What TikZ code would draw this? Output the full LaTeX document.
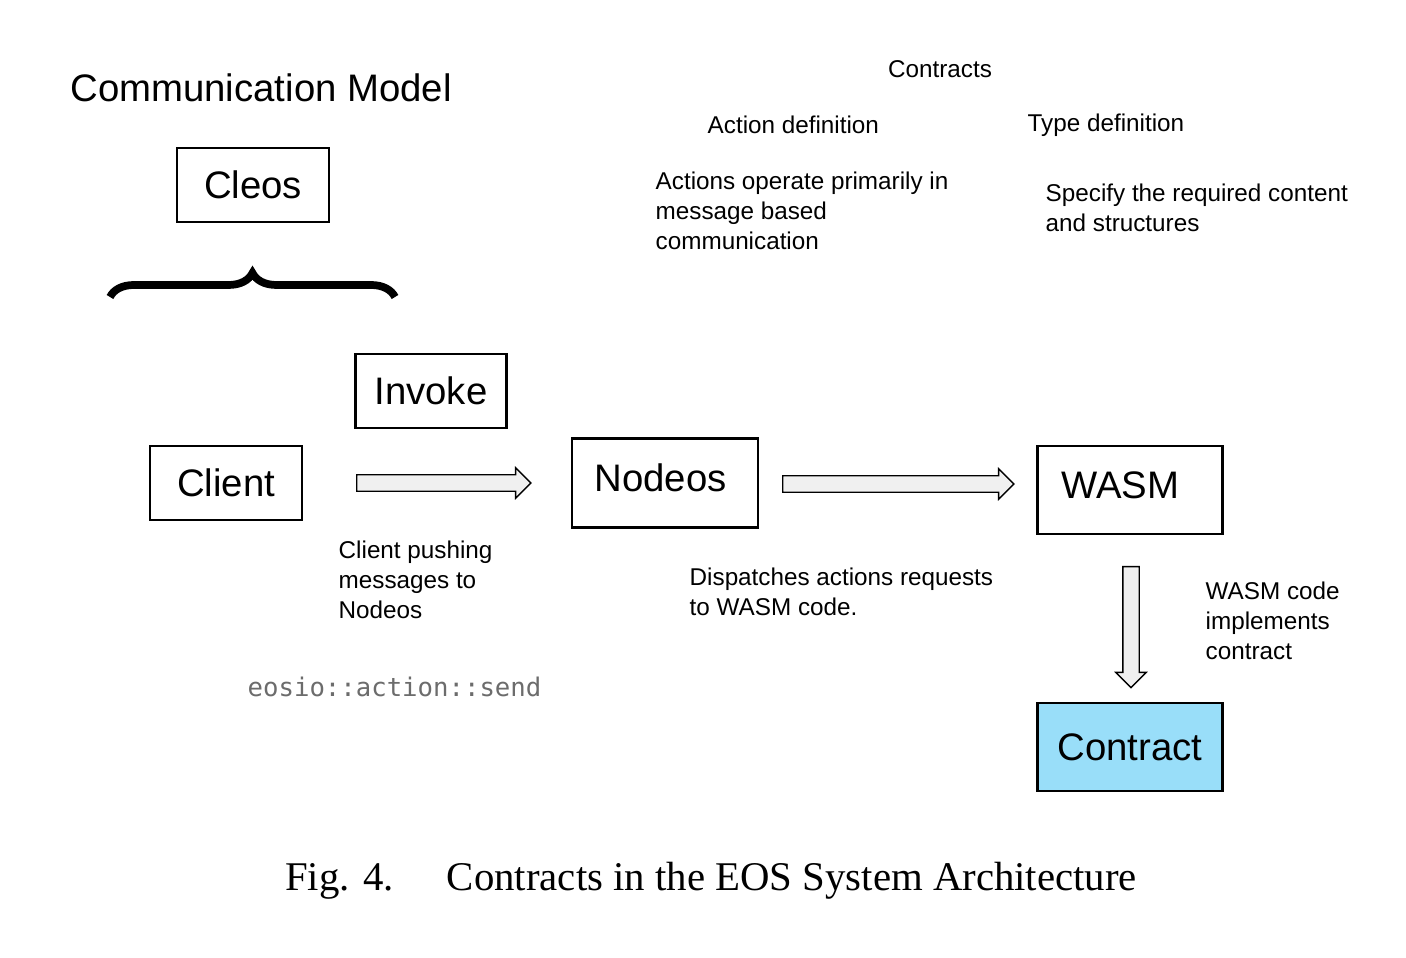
\documentclass[tikz,border=0pt]{standalone}
\usepackage{fontspec}
\setmainfont{Liberation Sans}
\newfontfamily\capfont{Liberation Serif}
\newfontfamily\codefont{DejaVu Sans Mono}
\usetikzlibrary{decorations.pathreplacing}
\usetikzlibrary{shapes.arrows}
\usetikzlibrary{positioning}

\begin{document}
\begin{tikzpicture}[x=0.01cm,y=-0.01cm,
	box/.style={draw,line width=0.8pt,inner sep=0pt,font=\fontsize{10.9}{13}\selectfont},
	txt/.style={align=left,anchor=north west,inner sep=0pt,font=\fontsize{6.9}{8.6}\selectfont},
	fat/.style={single arrow,draw,fill=gray!12,line width=0.4pt,inner sep=0.075cm,single arrow head extend=0.07cm}]
	
	\useasboundingbox (0,0) rectangle (1406,958);
	
	\node [anchor=west,font=\fontsize{10.9}{13}\selectfont] (title) at (58,88) {Communication Model};
	
	\node [box,minimum width=1.52cm,minimum height=0.74cm] (cleos) at (253,185) {Cleos};
	
	\draw [line width=2.2pt,decorate,decoration={brace,amplitude=0.24cm}]
	(110,297) -- (395,297);
	
	\node [box,minimum width=1.51cm,minimum height=0.74cm] (invoke) at (431,391) {Invoke};
	
	\node [box,minimum width=1.52cm,minimum height=0.74cm] (client) at (226,483) {Client};
	
	% main flow
	\node [box,minimum width=1.86cm,minimum height=0.89cm] (nodeos) at (665,483) {};
	\node [font=\fontsize{10.9}{13}\selectfont,anchor=west] (nodeoslbl) at (582,478) {Nodeos};
	
	\node [box,minimum width=1.85cm,minimum height=0.88cm] (wasm) at (1130,490) {};
	\node [font=\fontsize{10.9}{13}\selectfont,anchor=west] (wasmlbl) at (1049,485) {WASM};
	
	\node [box,fill=cyan!40,minimum width=1.85cm,minimum height=0.88cm] (contract) at (1130,747) {Contract};
	
	\node [fat,minimum height=1.74cm,anchor=west] (push) at (356,483) {};
	\node [fat,minimum height=2.31cm,anchor=west] (dispatch) at (782,484) {};
	\node [fat,shape border rotate=270,minimum height=1.21cm] (impl) at (1131,623) {};
	
	% labels
	\node [txt] (pushlbl) at (338,540) {Client pushing\\messages to\\Nodeos};
	\node [anchor=west,inner sep=0pt,text=gray!85!black,font=\codefont\fontsize{7.3}{9}\selectfont] (send) at (247,687) {eosio::action::send};
	\node [txt] (displbl) at (689,567) {Dispatches actions requests\\to WASM code.};
	\node [txt] (impllbl) at (1205,581) {WASM code\\implements\\contract};
	
	\node [font=\fontsize{6.9}{8.6}\selectfont] (contracts) at (940,69) {Contracts};
	\node [font=\fontsize{6.9}{8.6}\selectfont,anchor=west,inner sep=0pt] (actdef) at (707,125) {Action definition};
	\node [font=\fontsize{6.9}{8.6}\selectfont,anchor=west,inner sep=0pt] (typedef) at (1027,125) {Type definition};
	\node [txt] (actlbl) at (655,171) {Actions operate primarily in\\message based\\communication};
	\node [txt] (typelbl) at (1045,183) {Specify the required content\\and structures};
	
	\node [font=\capfont\fontsize{11.6}{14}\selectfont] (caption) at (711,881) {Fig. 4.\hspace{1.3em}Contracts in the EOS System Architecture};
	
\end{tikzpicture}
\end{document}
